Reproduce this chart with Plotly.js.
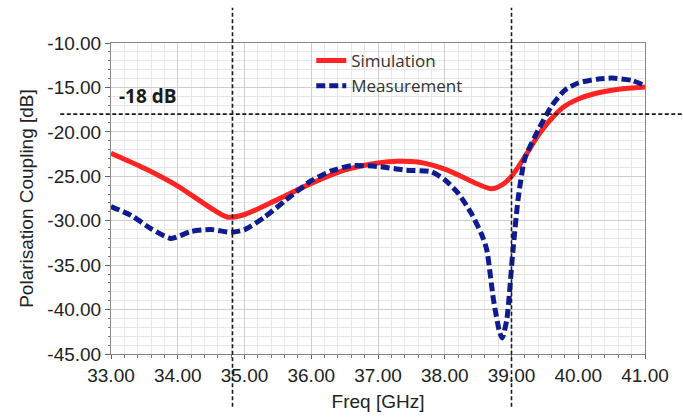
<!DOCTYPE html>
<html>
<head>
<meta charset="utf-8">
<script src="https://cdn.plot.ly/plotly-3.0.1.min.js"></script>
<style>html,body{margin:0;padding:0;background:#fff;}#chart{width:683px;height:418px;}</style>
</head>
<body>
<div id="chart"></div>
<script>
// Simulation curve
const simFreq = [33.0, 33.5, 34.0, 34.5, 34.75, 35.0, 35.5, 36.0, 36.5, 37.0, 37.3, 37.6, 38.0, 38.3, 38.5, 38.7, 38.85, 39.0, 39.2, 39.4, 39.6, 39.8, 40.0, 40.3, 40.6, 41.0];
const simDb   = [-22.4, -24.1, -26.1, -28.6, -29.6, -29.3, -27.6, -25.8, -24.3, -23.5, -23.3, -23.4, -24.2, -25.2, -25.9, -26.4, -26.0, -25.0, -22.8, -20.4, -18.5, -17.1, -16.3, -15.6, -15.2, -14.95];

// Measurement curve
const measFreq = [33.0, 33.3, 33.6, 33.9, 34.2, 34.5, 34.8, 35.0, 35.3, 35.6, 36.0, 36.3, 36.6, 37.0, 37.4, 37.8, 38.0, 38.2, 38.4, 38.55, 38.63, 38.73, 38.82, 38.86, 38.93, 39.02, 39.1, 39.2, 39.4, 39.6, 39.8, 40.0, 40.3, 40.5, 40.8, 41.0];
const measDb   = [-28.4, -29.4, -30.9, -32.0, -31.2, -31.0, -31.3, -31.0, -29.6, -27.8, -25.5, -24.4, -23.8, -23.9, -24.3, -24.5, -25.4, -26.9, -29.2, -31.5, -33.3, -38.9, -42.5, -43.2, -41.1, -33.5, -27.5, -23.0, -19.8, -17.1, -15.3, -14.5, -14.05, -13.95, -14.2, -14.8];

const seriesNames = ["Simulation", "Measurement"];
const thresholdDb = -18;
const thresholdLabel = "-18 dB";
const markerFreqs = [34.82, 39.0];

const xTickVals = [33, 34, 35, 36, 37, 38, 39, 40, 41];
const xTickText = ["33.00", "34.00", "35.00", "36.00", "37.00", "38.00", "39.00", "40.00", "41.00"];
const yTickVals = [-10, -15, -20, -25, -30, -35, -40, -45];
const yTickText = ["-10.00", "-15.00", "-20.00", "-25.00", "-30.00", "-35.00", "-40.00", "-45.00"];
const xTitle = "Freq [GHz]";
const yTitle = "Polarisation Coupling [dB]";

const traces = [
  {x: simFreq, y: simDb, name: seriesNames[0], type: "scatter", mode: "lines",
   line: {color: "#ff2424", width: 5, shape: "spline", smoothing: 0.8}},
  {x: measFreq, y: measDb, name: seriesNames[1], type: "scatter", mode: "lines",
   line: {color: "#0f1c8e", width: 5, dash: "9px,4px", shape: "spline", smoothing: 0.6}}
];

const refLine = {color: "#1a1a1a", width: 1.6, dash: "4px,2.5px"};
const shapes = markerFreqs.map(f => ({type: "line", xref: "x", yref: "paper", x0: f, x1: f, y0: -0.17, y1: 1.113, line: refLine, layer: "above"}));
shapes.push({type: "line", xref: "paper", yref: "y", x0: -0.095, x1: 1.08, y0: thresholdDb, y1: thresholdDb, line: refLine, layer: "above"});

const tickFont = {family: "Liberation Sans", size: 19, color: "#222"};

const layout = {
  width: 683, height: 418,
  margin: {l: 111, r: 38, t: 43, b: 64},
  paper_bgcolor: "#ffffff", plot_bgcolor: "#ffffff",
  showlegend: true,
  legend: {x: 0.375, y: 1.0, xanchor: "left", yanchor: "top", bgcolor: "rgba(0,0,0,0)",
           font: {family: "Open Sans", size: 17, color: "#333"}, tracegroupgap: 0, itemwidth: 30},
  xaxis: {
    range: [33, 41], tickvals: xTickVals, ticktext: xTickText,
    ticks: "outside", ticklen: 4, tickcolor: "#666", tickfont: tickFont,
    showline: true, linecolor: "#888", linewidth: 1, mirror: true,
    showgrid: true, gridcolor: "#cfcfcf", gridwidth: 1, zeroline: false,
    minor: {dtick: 0.2, ticks: "outside", ticklen: 3, tickcolor: "#777", showgrid: true, gridcolor: "#e8e8e8", gridwidth: 1},
    title: {text: xTitle, font: {family: "Liberation Sans", size: 19, color: "#222"}, standoff: 9}
  },
  yaxis: {
    range: [-45, -10], tickvals: yTickVals, ticktext: yTickText,
    ticks: "outside", ticklen: 5, tickcolor: "#666", tickfont: tickFont,
    showline: true, linecolor: "#888", linewidth: 1, mirror: true,
    showgrid: true, gridcolor: "#cfcfcf", gridwidth: 1, zeroline: false,
    minor: {dtick: 1, ticks: "outside", ticklen: 2, tickcolor: "#777", showgrid: true, gridcolor: "#e8e8e8", gridwidth: 1},
    title: {text: yTitle, font: {family: "Liberation Sans", size: 19, color: "#222"}, standoff: 8}
  },
  shapes: shapes,
  annotations: [{
    xref: "paper", yref: "y", x: 0.012, y: thresholdDb, xanchor: "left", yanchor: "bottom", yshift: 3,
    text: "<b>" + thresholdLabel + "</b>", showarrow: false,
    font: {family: "Open Sans", size: 19, color: "#1a1a1a"}
  }]
};

Plotly.newPlot("chart", traces, layout, {displayModeBar: false, staticPlot: true});
</script>
</body>
</html>
